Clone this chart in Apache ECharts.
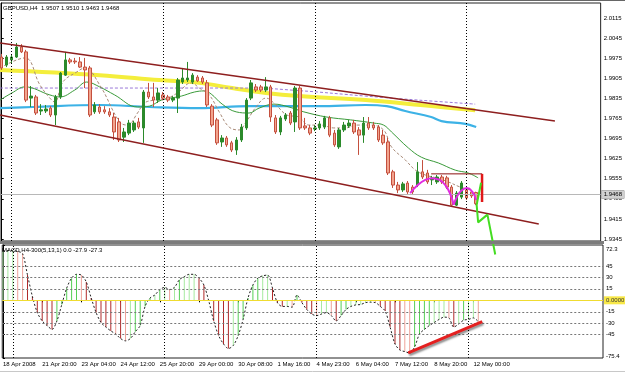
<!DOCTYPE html>
<html>
<head>
<meta charset="utf-8">
<script src="https://cdn.jsdelivr.net/npm/echarts@6/dist/echarts.min.js"></script>
<style>
  html, body { margin: 0; padding: 0; background: #fff; }
  #chart { width: 625px; height: 373px; }
</style>
</head>
<body>
<div id="chart"></div>
<script>
// GBPUSD H4 candles (bar index = position in array)
const opens = [1.9979, 1.9951, 1.9969, 1.9979, 2.0014, 1.9997, 1.9836, 1.9840, 1.9791, 1.9791,
  1.9801, 1.9777, 1.9840, 1.9916, 1.9969, 1.9965, 1.9962, 1.9944, 1.9941, 1.9788,
  1.9805, 1.9795, 1.9788, 1.9770, 1.9753, 1.9700, 1.9714, 1.9725, 1.9753, 1.9732,
  1.9857, 1.9840, 1.9829, 1.9847, 1.9840, 1.9829, 1.9836, 1.9892, 1.9899, 1.9892,
  1.9909, 1.9906, 1.9889, 1.9808, 1.9760, 1.9683, 1.9697, 1.9680, 1.9655, 1.9690,
  1.9732, 1.9836, 1.9875, 1.9875, 1.9864, 1.9875, 1.9767, 1.9718, 1.9763, 1.9784,
  1.9753, 1.9871, 1.9739, 1.9732, 1.9728, 1.9732, 1.9735, 1.9767, 1.9714, 1.9666,
  1.9725, 1.9739, 1.9749, 1.9725, 1.9707, 1.9749, 1.9742, 1.9735, 1.9707, 1.9683,
  1.9579, 1.9533, 1.9516, 1.9540, 1.9526, 1.9533, 1.9579, 1.9575, 1.9551, 1.9544,
  1.9561, 1.9558, 1.9526, 1.9463, 1.9491, 1.9516, 1.9509, 1.9507]
const closes = [1.9941, 1.9979, 1.9979, 2.0014, 1.9997, 1.9829, 1.9843, 1.9784, 1.9795, 1.9798,
  1.9777, 1.9840, 1.9923, 1.9969, 1.9962, 1.9962, 1.9944, 1.9934, 1.9777, 1.9812,
  1.9788, 1.9788, 1.9777, 1.9718, 1.9690, 1.9718, 1.9749, 1.9749, 1.9735, 1.9857,
  1.9840, 1.9829, 1.9854, 1.9836, 1.9829, 1.9836, 1.9899, 1.9906, 1.9906, 1.9916,
  1.9896, 1.9892, 1.9812, 1.9742, 1.9680, 1.9697, 1.9673, 1.9655, 1.9690, 1.9735,
  1.9829, 1.9889, 1.9864, 1.9864, 1.9875, 1.9770, 1.9718, 1.9767, 1.9777, 1.9749,
  1.9871, 1.9732, 1.9732, 1.9714, 1.9732, 1.9746, 1.9767, 1.9707, 1.9673, 1.9725,
  1.9742, 1.9749, 1.9718, 1.9707, 1.9749, 1.9732, 1.9732, 1.9690, 1.9680, 1.9575,
  1.9533, 1.9516, 1.9537, 1.9509, 1.9509, 1.9579, 1.9561, 1.9544, 1.9558, 1.9561,
  1.9544, 1.9526, 1.9463, 1.9505, 1.9540, 1.9488, 1.9495, 1.9468]
const lows = [1.9934, 1.9944, 1.9958, 1.9976, 1.9993, 1.9822, 1.9805, 1.9777, 1.9777, 1.9784,
  1.9770, 1.9742, 1.9833, 1.9913, 1.9955, 1.9955, 1.9941, 1.9871, 1.9770, 1.9781,
  1.9781, 1.9781, 1.9770, 1.9690, 1.9683, 1.9683, 1.9707, 1.9718, 1.9728, 1.9680,
  1.9833, 1.9805, 1.9819, 1.9829, 1.9822, 1.9822, 1.9784, 1.9885, 1.9892, 1.9885,
  1.9892, 1.9885, 1.9805, 1.9735, 1.9673, 1.9666, 1.9666, 1.9648, 1.9638, 1.9683,
  1.9725, 1.9829, 1.9857, 1.9857, 1.9857, 1.9753, 1.9711, 1.9707, 1.9756, 1.9742,
  1.9718, 1.9725, 1.9725, 1.9707, 1.9721, 1.9725, 1.9728, 1.9700, 1.9666, 1.9659,
  1.9718, 1.9732, 1.9711, 1.9638, 1.9680, 1.9725, 1.9725, 1.9683, 1.9673, 1.9568,
  1.9523, 1.9505, 1.9509, 1.9502, 1.9502, 1.9526, 1.9554, 1.9537, 1.9533, 1.9537,
  1.9537, 1.9519, 1.9457, 1.9460, 1.9484, 1.9481, 1.9488, 1.9463]
const highs = [1.9990, 1.9986, 1.9986, 2.0028, 2.0024, 2.0004, 1.9878, 1.9847, 1.9815, 1.9812,
  1.9808, 1.9847, 1.9927, 1.9997, 1.9976, 1.9976, 1.9979, 1.9976, 1.9948, 1.9822,
  1.9815, 1.9808, 1.9801, 1.9784, 1.9767, 1.9732, 1.9760, 1.9756, 1.9767, 1.9864,
  1.9889, 1.9889, 1.9871, 1.9857, 1.9847, 1.9843, 1.9906, 1.9941, 1.9962, 1.9923,
  1.9916, 1.9913, 1.9899, 1.9815, 1.9767, 1.9707, 1.9704, 1.9687, 1.9700, 1.9746,
  1.9836, 1.9899, 1.9885, 1.9882, 1.9909, 1.9882, 1.9777, 1.9774, 1.9784, 1.9791,
  1.9878, 1.9878, 1.9767, 1.9742, 1.9742, 1.9756, 1.9774, 1.9774, 1.9725, 1.9732,
  1.9753, 1.9760, 1.9760, 1.9735, 1.9770, 1.9770, 1.9753, 1.9742, 1.9725, 1.9697,
  1.9586, 1.9544, 1.9544, 1.9547, 1.9533, 1.9613, 1.9620, 1.9586, 1.9565, 1.9568,
  1.9568, 1.9565, 1.9533, 1.9512, 1.9547, 1.9523, 1.9516, 1.9510]

// MACD H4-300(5,13,1) histogram, one value per bar
const macdValues = [64, 65, 65, 64, 61, 33, 5, -16, -27, -33,
  -38, -27, -5.5, 16, 29, 34, 33, 24, 3, -16,
  -29, -35, -40, -44, -50, -53, -50, -41, -33, -8,
  3, 7, 14, 17, 14, 17, 27, 31, 34, 34,
  29, 20, -1, -27, -46, -57, -63, -59, -46, -25,
  3, 20, 29, 32, 33, 16, -3, -8, -8, -9,
  7, -3, -12, -18, -20, -18, -16, -20, -27, -20,
  -12, -8, -6, -5.5, -3, -2.5, -3, -8, -14, -35,
  -57, -65, -67, -69, -61, -44, -38, -33, -29, -25,
  -22, -23, -35, -31, -26, -25, -23, -27.9]

// moving averages read as [bar, price] points
const maYellow = [[-0.35, 1.9934], [20, 1.9916], [32.2, 1.9899], [40.4, 1.9889], [47.1, 1.9871],
  [54, 1.9854], [60.8, 1.9843], [74.4, 1.9829], [87.8, 1.9808], [96.8, 1.9794]]
const maCyan = [[-0.35, 1.9801], [6.4, 1.9805], [20, 1.9812], [30.2, 1.9805], [40.4, 1.9801],
  [50.6, 1.9808], [64.8, 1.9808], [74.4, 1.9812], [78.7, 1.9808], [82.5, 1.9791],
  [87.8, 1.9770], [89.9, 1.9756], [94.8, 1.9746], [97, 1.9735]]
const maPurple = [[-0.35, 1.9871], [50.6, 1.9871], [60.8, 1.9862], [74.4, 1.9843], [85.2, 1.9829], [96.8, 1.9815]]
const maGreen = [[-0.35, 1.9829], [2.1, 1.9854], [4.75, 1.9875], [9.84, 1.9847], [11.87, 1.9840],
  [14.93, 1.9864], [17.37, 1.9892], [20.02, 1.9875], [23.08, 1.9847], [27.76, 1.9805],
  [30.2, 1.9808], [32.65, 1.9829], [36.72, 1.9843], [39.37, 1.9857], [41.4, 1.9861],
  [42.83, 1.9850], [45.07, 1.9815], [47.93, 1.9788], [50.57, 1.9784], [52.6, 1.9801],
  [55.66, 1.9815], [58.72, 1.9805], [61.77, 1.9788], [66.46, 1.9770], [71.34, 1.9760],
  [76.03, 1.9749], [78.07, 1.9742], [79.69, 1.9718], [83.16, 1.9662], [85.8, 1.9630],
  [89.27, 1.9610], [92.73, 1.9585], [95.38, 1.9575], [97.4, 1.9558]]
const maFast = [[-0.35, 1.9941], [4.75, 1.9976], [7.8, 1.9882], [9.84, 1.9836], [10.85, 1.9822],
  [12.49, 1.9892], [15.34, 1.9927], [16.97, 1.9941], [20.02, 1.9882], [24.1, 1.9753],
  [25.72, 1.9742], [27.76, 1.9784], [29.19, 1.9819], [31.22, 1.9829], [33.87, 1.9836],
  [35.91, 1.9854], [38.76, 1.9889], [40.39, 1.9871], [42.42, 1.9847], [44.46, 1.9788],
  [46.5, 1.9735], [48.53, 1.9725], [49.96, 1.9753], [52, 1.9805], [54.03, 1.9836],
  [56.07, 1.9812], [58.3, 1.9777], [60.75, 1.9770], [62.79, 1.9742], [65.23, 1.9742],
  [67.88, 1.9732], [70.33, 1.9732], [72.57, 1.9742], [75.42, 1.9742], [78.07, 1.9725],
  [79.69, 1.9666], [82.54, 1.9620], [84.58, 1.9585], [86.61, 1.9568], [88.85, 1.9558],
  [91.29, 1.9544], [93.74, 1.9526], [95.78, 1.9516]]

// drawn objects
const channelUpper = [[-0.35, 2.0028], [113.1, 1.9756]]
const channelLower = [[-0.35, 1.9777], [109.8, 1.9397]]
const boxTop = [[87.8, 1.9572], [98.2, 1.9572]]
const boxSide = [[98.2, 1.9572], [98.2, 1.9474]]
const arcLeft = [[83.5, 1.9505], [85, 1.9532], [86.5, 1.9550], [88, 1.9557], [89.5, 1.9551],
  [90.8, 1.9530], [91.8, 1.9497], [92.4, 1.9464]]
const arcRight = [[92.4, 1.9464], [93, 1.9490], [94, 1.9514], [95.1, 1.9523], [96.2, 1.9510], [97, 1.9481]]
const zigzag = [[98, 1.9541], [97.1, 1.9464], [97.4, 1.9403], [99.3, 1.9430], [100.9, 1.9291]]
const macdTrend = [[82.7, -68.7], [97.8, -27.7]]

// axes
const priceTicks = [2.0115, 2.0045, 1.9975, 1.9905, 1.9835, 1.9765, 1.9695, 1.9625, 1.9555, 1.9485, 1.9415, 1.9345]
const macdTicks = [72.3, 45, 30, 15, -15, -30, -45, -75.4]
const macdLevels = [45, 30, 15, -15, -30, -45]
const dateLabels = ['18 Apr 2008', '21 Apr 20:00', '23 Apr 04:00', '24 Apr 12:00', '25 Apr 20:00',
  '29 Apr 00:00', '30 Apr 08:00', '1 May 16:00', '4 May 23:00', '6 May 04:00', '7 May 12:00',
  '8 May 20:00', '12 May 00:00']
const dateBars = dateLabels.map(function (d, i) { return i * 8 })
const gridBars = [2, 33, 64, 95]
const bidPrice = 1.9468

const xMin = -0.15
const xMax = 122.45
const FONT = 'Liberation Sans'

function macdColor(i) {
  let v = macdValues[i]
  let d = i > 0 ? v - macdValues[i - 1] : 1
  if (d >= 0) {
    return Math.abs(d) >= 5 ? '#55cf55' : '#a6eaa0'
  }
  return Math.abs(d) >= 5 ? '#b02a2a' : '#eea39a'
}

function maLine(data, color, width, type) {
  return {
    type: 'line', xAxisIndex: 0, yAxisIndex: 0, data: data, symbol: 'none', smooth: 0.4,
    lineStyle: {color: color, width: width, type: type || 'solid'}, z: 2, silent: true
  }
}

function objLine(data, color, width, extra) {
  let s = {
    type: 'line', xAxisIndex: 0, yAxisIndex: 0, data: data, symbol: 'none',
    lineStyle: {color: color, width: width}, z: 5, silent: true, clip: false
  }
  return Object.assign(s, extra || {})
}

let vLines = gridBars.map(function (b) {
  return {xAxis: b, label: {show: false}, lineStyle: {color: '#000', type: [1, 2], width: 1}}
})

let myChart = echarts.init(document.getElementById('chart'))
myChart.setOption({
  animation: false,
  backgroundColor: '#fff',
  grid: [
    {left: 1, right: 22, top: 3, height: 238, show: true, borderColor: '#222', borderWidth: 1},
    {left: 1, right: 22, top: 245, height: 113, show: true, borderColor: '#222', borderWidth: 1}
  ],
  xAxis: [
    {type: 'value', gridIndex: 0, min: xMin, max: xMax, show: false},
    {
      type: 'value', gridIndex: 1, min: xMin, max: xMax,
      axisLine: {show: false}, splitLine: {show: false},
      axisTick: {show: true, customValues: dateBars, length: 2, lineStyle: {color: '#000'}},
      axisLabel: {
        customValues: dateBars, align: 'left', margin: 3, fontSize: 6, fontFamily: FONT, color: '#000',
        formatter: function (v) { return dateLabels[dateBars.indexOf(v)] || '' }
      }
    }
  ],
  yAxis: [
    {
      type: 'value', gridIndex: 0, position: 'right', min: 1.93381, max: 2.01673,
      splitLine: {show: false}, axisLine: {show: true, lineStyle: {color: '#000'}},
      axisTick: {show: true, customValues: priceTicks, length: 2, lineStyle: {color: '#000'}},
      axisLabel: {
        customValues: priceTicks, margin: 3, fontSize: 6, fontFamily: FONT, color: '#000',
        formatter: function (v) { return v.toFixed(4) }
      }
    },
    {
      type: 'value', gridIndex: 1, position: 'right', min: -75.4, max: 72.3,
      splitLine: {show: false}, axisLine: {show: true, lineStyle: {color: '#000'}},
      axisTick: {show: true, customValues: macdTicks, length: 2, lineStyle: {color: '#000'}},
      axisLabel: {
        customValues: macdTicks, margin: 3, fontSize: 6, fontFamily: FONT, color: '#000',
        formatter: function (v) {
          if (v === macdTicks[0]) return '{top|' + v + '}'
          if (v === macdTicks[macdTicks.length - 1]) return '{bot|' + v + '}'
          return String(v)
        },
        rich: {
          top: {fontSize: 6, fontFamily: FONT, color: '#000', padding: [8, 0, 0, 0]},
          bot: {fontSize: 6, fontFamily: FONT, color: '#000', padding: [0, 0, 4, 0]}
        }
      }
    }
  ],
  graphic: [
    {type: 'rect', shape: {x: 0, y: 241, width: 604, height: 3}, style: {fill: '#7c7c7c'}, z: 10},
    {type: 'line', shape: {x1: 0, y1: 371.5, x2: 625, y2: 371.5}, style: {stroke: '#c8c8c8', lineWidth: 1}},
    {type: 'line', shape: {x1: 0, y1: 0.5, x2: 625, y2: 0.5}, style: {stroke: '#666', lineWidth: 1}},
    {
      type: 'text', left: 3, top: 5, z: 10,
      style: {text: 'GBPUSD,H4  1.9507 1.9510 1.9463 1.9468', fill: '#000', font: '6px "Liberation Sans"'}
    },
    {
      type: 'text', left: 2, top: 247, z: 10,
      style: {text: 'MACD H4-300(5,13,1) 0.0 -27.9 -27.3', fill: '#000', font: '6px "Liberation Sans"'}
    }
  ],
  series: [
    maLine(maYellow, '#f4ee3c', 4),
    maLine(maCyan, '#3cb2e6', 2.2),
    maLine(maPurple, '#9a78d8', 1, [3, 2]),
    maLine(maGreen, '#3a9a3a', 1),
    maLine(maFast, '#a88a78', 1, [3, 2]),
    {
      type: 'candlestick', xAxisIndex: 0, yAxisIndex: 0, barWidth: 3, z: 3, silent: true,
      data: opens.map(function (o, i) { return [i, o, closes[i], lows[i], highs[i]] }),
      itemStyle: {
        color: '#2b8a2b', borderColor: '#2b8a2b',
        color0: '#f2a48e', borderColor0: '#c4503e', borderWidth: 1
      },
      markLine: {
        silent: true, symbol: ['none', 'none'], animation: false,
        data: vLines.concat([{
          yAxis: bidPrice,
          lineStyle: {color: '#b8b8b8', type: 'solid', width: 1},
          label: {
            show: true, position: 'end', distance: 1, formatter: bidPrice.toFixed(4),
            backgroundColor: '#d0d0d0', borderColor: '#999', borderWidth: 0.5,
            color: '#000', fontSize: 6, fontFamily: FONT, padding: [1, 2]
          }
        }])
      }
    },
    objLine(channelUpper, '#8e1f1f', 1.5),
    objLine(channelLower, '#8e1f1f', 1.5),
    objLine(boxTop, '#8b1010', 1),
    objLine(boxSide, '#e01818', 2.5),
    objLine(arcLeft, '#e02ce0', 2, {smooth: 0.5}),
    objLine(arcRight, '#e02ce0', 2, {smooth: 0.5}),
    objLine(zigzag, '#44dd22', 2),
    {
      type: 'bar', xAxisIndex: 1, yAxisIndex: 1, barWidth: 1, silent: true, z: 2,
      data: macdValues.map(function (v, i) { return [i, v] }),
      itemStyle: {color: function (p) { return macdColor(p.dataIndex) }},
      markLine: {
        silent: true, symbol: ['none', 'none'], animation: false,
        data: vLines.concat(macdLevels.map(function (lv) {
          return {yAxis: lv, label: {show: false}, lineStyle: {color: '#777', type: [2, 2], width: 1}}
        })).concat([{
          yAxis: 0,
          lineStyle: {color: '#f0dc30', type: 'solid', width: 1},
          label: {
            show: true, position: 'end', distance: 1, formatter: '0.0000',
            backgroundColor: '#f8e848', color: '#333', fontSize: 6, fontFamily: FONT, padding: [1, 2]
          }
        }])
      }
    },
    {
      type: 'line', xAxisIndex: 1, yAxisIndex: 1, symbol: 'none', smooth: 0.3, silent: true, z: 3,
      data: macdValues.map(function (v, i) { return [i, v] }),
      lineStyle: {color: '#222', width: 1, type: [2, 2]}
    },
    {
      type: 'line', xAxisIndex: 1, yAxisIndex: 1, symbol: 'none', silent: true, z: 5,
      data: macdTrend,
      lineStyle: {
        color: '#e42020', width: 3,
        shadowColor: 'rgba(0,0,0,0.45)', shadowBlur: 2, shadowOffsetY: 2, shadowOffsetX: 1
      }
    }
  ]
})
</script>
</body>
</html>
